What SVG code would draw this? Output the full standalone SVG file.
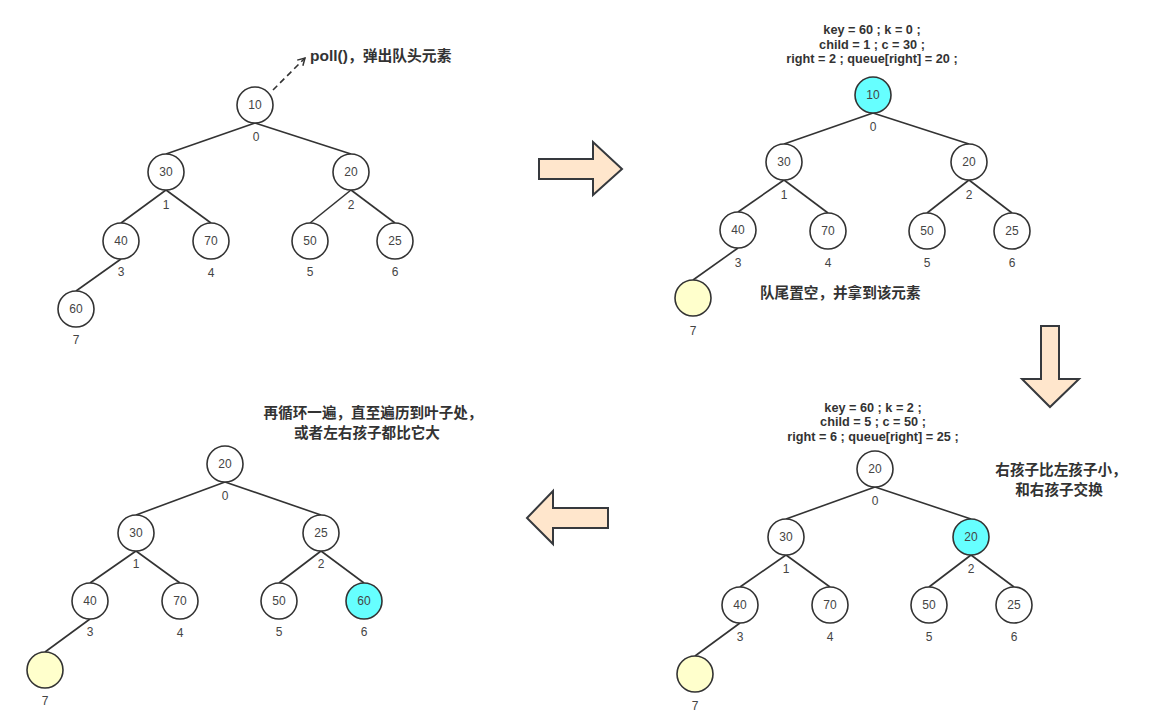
<svg xmlns="http://www.w3.org/2000/svg" width="1171" height="728" viewBox="0 0 1171 728">
<style>
.n{fill:#fff;stroke:#333;stroke-width:1.6}
.cy{fill:#66FFFF}
.ye{fill:#FFFFCC}
.t{font-family:"Liberation Sans","Noto Sans CJK SC",sans-serif;font-size:12px;fill:#444;text-anchor:middle}
.e{stroke:#333;stroke-width:1.6;fill:none}
.b{font-family:"Liberation Sans","Noto Sans CJK SC",sans-serif;font-size:12.7px;font-weight:bold;fill:#333;text-anchor:middle}
.c{font-family:"Noto Sans CJK SC",sans-serif;font-size:14.6px;font-weight:bold;fill:#333}
.ar{fill:#FFE6CC;stroke:#36393d;stroke-width:2}
</style>
<defs>
<marker id="oa" markerWidth="10" markerHeight="10" refX="8" refY="5" orient="auto" markerUnits="userSpaceOnUse"><path d="M1,1 L8,5 L1,9" fill="none" stroke="#333" stroke-width="1.5"/></marker>
</defs>
<rect width="1171" height="728" fill="#fff"/>
<g id="connectors">
<line class="e" x1="255" y1="123" x2="166" y2="154"/>
<line class="e" x1="255" y1="123" x2="351" y2="154"/>
<line class="e" x1="166" y1="190" x2="121" y2="223"/>
<line class="e" x1="166" y1="190" x2="211" y2="223"/>
<line class="e" x1="351" y1="190" x2="310" y2="223"/>
<line class="e" x1="351" y1="190" x2="395" y2="223"/>
<line class="e" x1="121" y1="259" x2="76" y2="291"/>
<line x1="273" y1="90" x2="305" y2="58" stroke="#333" stroke-width="1.6" stroke-dasharray="6,4" marker-end="url(#oa)"/>
<line class="e" x1="873" y1="113" x2="784" y2="144"/>
<line class="e" x1="873" y1="113" x2="969" y2="144"/>
<line class="e" x1="784" y1="180" x2="738" y2="212"/>
<line class="e" x1="784" y1="180" x2="828" y2="213"/>
<line class="e" x1="969" y1="180" x2="927" y2="213"/>
<line class="e" x1="969" y1="180" x2="1012" y2="213"/>
<line class="e" x1="738" y1="248" x2="693" y2="280"/>
<line class="e" x1="875" y1="487" x2="786" y2="519"/>
<line class="e" x1="875" y1="487" x2="971" y2="519"/>
<line class="e" x1="786" y1="555" x2="740" y2="587"/>
<line class="e" x1="786" y1="555" x2="830" y2="587"/>
<line class="e" x1="971" y1="555" x2="929" y2="587"/>
<line class="e" x1="971" y1="555" x2="1014" y2="587"/>
<line class="e" x1="740" y1="623" x2="695" y2="656"/>
<line class="e" x1="225" y1="482" x2="136" y2="515"/>
<line class="e" x1="225" y1="482" x2="321" y2="515"/>
<line class="e" x1="136" y1="551" x2="90" y2="583"/>
<line class="e" x1="136" y1="551" x2="180" y2="583"/>
<line class="e" x1="321" y1="551" x2="279" y2="583"/>
<line class="e" x1="321" y1="551" x2="364" y2="583"/>
<line class="e" x1="90" y1="619" x2="45" y2="652"/>
</g>
<g id="p1n0"><circle class="n" cx="255" cy="105" r="18"/><text class="t" x="255" y="109">10</text><text class="t" x="256" y="141">0</text></g>
<g id="p1n1"><circle class="n" cx="166" cy="172" r="18"/><text class="t" x="166" y="176">30</text><text class="t" x="166" y="209">1</text></g>
<g id="p1n2"><circle class="n" cx="351" cy="172" r="18"/><text class="t" x="351" y="176">20</text><text class="t" x="351" y="209">2</text></g>
<g id="p1n3"><circle class="n" cx="121" cy="241" r="18"/><text class="t" x="121" y="245">40</text><text class="t" x="121" y="276">3</text></g>
<g id="p1n4"><circle class="n" cx="211" cy="241" r="18"/><text class="t" x="211" y="245">70</text><text class="t" x="211" y="277">4</text></g>
<g id="p1n5"><circle class="n" cx="310" cy="241" r="18"/><text class="t" x="310" y="245">50</text><text class="t" x="310" y="276">5</text></g>
<g id="p1n6"><circle class="n" cx="395" cy="241" r="18"/><text class="t" x="395" y="245">25</text><text class="t" x="395" y="276">6</text></g>
<g id="p1n7"><circle class="n" cx="76" cy="309" r="18"/><text class="t" x="76" y="313">60</text><text class="t" x="76" y="344">7</text></g>
<g id="p1label"><text x="310" y="61" font-family="'Liberation Sans','Noto Sans CJK SC',sans-serif" font-size="15.5" font-weight="bold" fill="#333">poll()<tspan font-family="'Noto Sans CJK SC',sans-serif" font-size="14.8">，弹出队头元素</tspan></text></g>
<g id="arrowRight"><path class="ar" d="M539,159 L593,159 L593,142 L622,169 L593,195 L593,179 L539,179 Z"/></g>
<g id="p2text"><text class="b" x="872" y="34">key = 60 ; k = 0 ;</text><text class="b" x="872" y="49">child = 1 ; c = 30 ;</text><text class="b" x="872" y="63">right = 2 ; queue[right] = 20 ;</text></g>
<g id="p2n0"><circle class="n cy" cx="873" cy="95" r="18"/><text class="t" x="873" y="99">10</text><text class="t" x="873" y="131">0</text></g>
<g id="p2n1"><circle class="n" cx="784" cy="162" r="18"/><text class="t" x="784" y="166">30</text><text class="t" x="784" y="199">1</text></g>
<g id="p2n2"><circle class="n" cx="969" cy="162" r="18"/><text class="t" x="969" y="166">20</text><text class="t" x="969" y="199">2</text></g>
<g id="p2n3"><circle class="n" cx="738" cy="230" r="18"/><text class="t" x="738" y="234">40</text><text class="t" x="738" y="267">3</text></g>
<g id="p2n4"><circle class="n" cx="828" cy="231" r="18"/><text class="t" x="828" y="235">70</text><text class="t" x="828" y="267">4</text></g>
<g id="p2n5"><circle class="n" cx="927" cy="231" r="18"/><text class="t" x="927" y="235">50</text><text class="t" x="927" y="267">5</text></g>
<g id="p2n6"><circle class="n" cx="1012" cy="231" r="18"/><text class="t" x="1012" y="235">25</text><text class="t" x="1012" y="267">6</text></g>
<g id="p2n7"><circle class="n ye" cx="693" cy="298" r="18"/><text class="t" x="693" y="335">7</text></g>
<g id="p2label"><text class="c" x="760" y="298">队尾置空，并拿到该元素</text></g>
<g id="arrowDown"><path class="ar" d="M1041,326 L1059,326 L1059,379 L1079,379 L1050,407 L1022,379 L1041,379 Z"/></g>
<g id="p3text"><text class="b" x="873" y="412">key = 60 ; k = 2 ;</text><text class="b" x="873" y="426">child = 5 ; c = 50 ;</text><text class="b" x="873" y="441">right = 6 ; queue[right] = 25 ;</text></g>
<g id="p3n0"><circle class="n" cx="875" cy="469" r="18"/><text class="t" x="875" y="473">20</text><text class="t" x="875" y="505">0</text></g>
<g id="p3n1"><circle class="n" cx="786" cy="537" r="18"/><text class="t" x="786" y="541">30</text><text class="t" x="786" y="573">1</text></g>
<g id="p3n2"><circle class="n cy" cx="971" cy="537" r="18"/><text class="t" x="971" y="541">20</text><text class="t" x="971" y="573">2</text></g>
<g id="p3n3"><circle class="n" cx="740" cy="605" r="18"/><text class="t" x="740" y="609">40</text><text class="t" x="740" y="641">3</text></g>
<g id="p3n4"><circle class="n" cx="830" cy="605" r="18"/><text class="t" x="830" y="609">70</text><text class="t" x="830" y="641">4</text></g>
<g id="p3n5"><circle class="n" cx="929" cy="605" r="18"/><text class="t" x="929" y="609">50</text><text class="t" x="929" y="641">5</text></g>
<g id="p3n6"><circle class="n" cx="1014" cy="605" r="18"/><text class="t" x="1014" y="609">25</text><text class="t" x="1014" y="641">6</text></g>
<g id="p3n7"><circle class="n ye" cx="695" cy="674" r="18"/><text class="t" x="695" y="710">7</text></g>
<g id="p3label"><text class="c" x="1061" y="475" text-anchor="middle">右孩子比左孩子小，</text><text class="c" x="1059" y="495" text-anchor="middle">和右孩子交换</text></g>
<g id="arrowLeft"><path class="ar" d="M608,508 L553,508 L553,491 L527,518 L553,544 L553,528 L608,528 Z"/></g>
<g id="p4label"><text class="c" x="373" y="418" text-anchor="middle">再循环一遍，直至遍历到叶子处，</text><text class="c" x="367" y="438" text-anchor="middle">或者左右孩子都比它大</text></g>
<g id="p4n0"><circle class="n" cx="225" cy="464" r="18"/><text class="t" x="225" y="468">20</text><text class="t" x="225" y="500">0</text></g>
<g id="p4n1"><circle class="n" cx="136" cy="533" r="18"/><text class="t" x="136" y="537">30</text><text class="t" x="136" y="568">1</text></g>
<g id="p4n2"><circle class="n" cx="321" cy="533" r="18"/><text class="t" x="321" y="537">25</text><text class="t" x="321" y="568">2</text></g>
<g id="p4n3"><circle class="n" cx="90" cy="601" r="18"/><text class="t" x="90" y="605">40</text><text class="t" x="90" y="636">3</text></g>
<g id="p4n4"><circle class="n" cx="180" cy="601" r="18"/><text class="t" x="180" y="605">70</text><text class="t" x="180" y="637">4</text></g>
<g id="p4n5"><circle class="n" cx="279" cy="601" r="18"/><text class="t" x="279" y="605">50</text><text class="t" x="279" y="636">5</text></g>
<g id="p4n6"><circle class="n cy" cx="364" cy="601" r="18"/><text class="t" x="364" y="605">60</text><text class="t" x="364" y="636">6</text></g>
<g id="p4n7"><circle class="n ye" cx="45" cy="670" r="18"/><text class="t" x="45" y="705">7</text></g>
</svg>
